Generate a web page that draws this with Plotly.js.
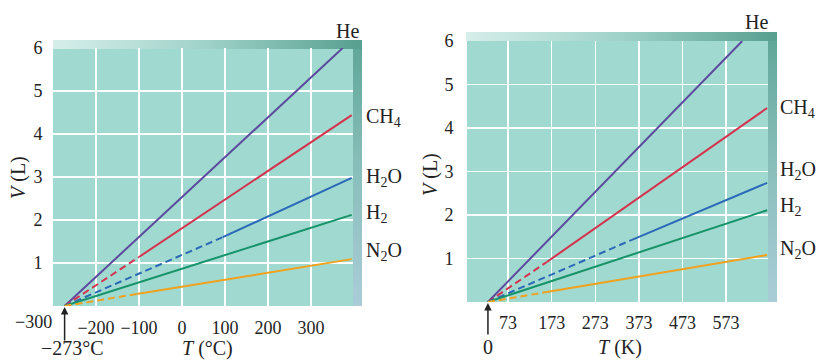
<!DOCTYPE html>
<html>
<head>
<meta charset="utf-8">
<script src="https://cdn.plot.ly/plotly-3.0.1.min.js"></script>
<style>html,body{margin:0;padding:0;background:#fff;}#chart{width:817px;height:360px;}</style>
</head>
<body>
<div id="chart"></div>
<script>
// ---------- data ----------
const gases      = ['He', 'CH4', 'H2O', 'H2', 'N2O'];
const gasLabels  = ['He', 'CH<sub>4</sub>', 'H<sub>2</sub>O', 'H<sub>2</sub>', 'N<sub>2</sub>O'];
const gasColors  = ['#5c4a9e', '#d4324e', '#2b69b8', '#16936a', '#f0a11e'];

// Left panel: temperature in degrees Celsius
const celsiusStart = -273;
const cDashEndT = [null, -100, 95, null, -105];   // extrapolated (dashed) part ends here
const cDashEndV = [null, 1.14, 1.60, null, 0.28];
const cEndT     = [374, 395, 395, 395, 395];
const cEndV     = [6.0, 4.44, 2.98, 2.12, 1.09];
const cTicks    = [-200, -100, 0, 100, 200, 300];
const cTickText = ['\u2212200', '\u2212100', '0', '100', '200', '300'];

// Right panel: temperature in kelvin
const kelvinStart = 27;   // where the lines meet, marked "0"
const kDashEndT = [null, 162, 357, null, 162];
const kDashEndV = [null, 0.92, 1.43, null, 0.23];
const kEndT     = [610, 667, 667, 667, 667];
const kEndV     = [6.0, 4.46, 2.74, 2.11, 1.08];
const kTicks    = [73, 173, 273, 373, 473, 573];
const kTickText = ['73', '173', '273', '373', '473', '573'];

const vTicks = [1, 2, 3, 4, 5, 6];

// ---------- helpers ----------
const W = 817, H = 360;
const px = x => x / W;
const py = y => 1 - y / H;
const FONT = 'Liberation Serif, Times New Roman, serif';

const traces = [];
function addPanel(xa, ya, t0, dT, dV, eT, eV) {
  gases.forEach((g, i) => {
    const line = {color: gasColors[i], width: 2};
    if (dT[i] !== null) {
      traces.push({x: [t0, dT[i]], y: [0, dV[i]], xaxis: xa, yaxis: ya, mode: 'lines',
        line: Object.assign({}, line, {dash: '7px,4px'}), name: g, hoverinfo: 'skip'});
      traces.push({x: [dT[i], eT[i]], y: [dV[i], eV[i]], xaxis: xa, yaxis: ya, mode: 'lines',
        line: line, name: g, hoverinfo: 'skip'});
    } else {
      traces.push({x: [t0, eT[i]], y: [0, eV[i]], xaxis: xa, yaxis: ya, mode: 'lines',
        line: line, name: g, hoverinfo: 'skip'});
    }
  });
}
addPanel('x', 'y', celsiusStart, cDashEndT, cDashEndV, cEndT, cEndV);
addPanel('x2', 'y2', kelvinStart, kDashEndT, kDashEndV, kEndT, kEndV);

function svgUri(w, h, band) {
  const s = `<svg xmlns="http://www.w3.org/2000/svg" width="${w}" height="${h}" viewBox="0 0 ${w} ${h}">
<defs>
<linearGradient id="t" x1="0" y1="0" x2="1" y2="0"><stop offset="0" stop-color="#d6eeea"/><stop offset="0.5" stop-color="#9fd2c9"/><stop offset="1" stop-color="#579f90"/></linearGradient>
<linearGradient id="s" x1="0" y1="0" x2="0" y2="1"><stop offset="0" stop-color="#5ea597"/><stop offset="0.45" stop-color="#86bdb8"/><stop offset="1" stop-color="#aacdd8"/></linearGradient>
</defs>
<rect x="${w - band}" y="0" width="${band}" height="${h}" fill="url(#s)"/>
<rect x="0" y="0" width="${w}" height="${band}" fill="url(#t)"/>
</svg>`;
  return 'data:image/svg+xml;base64,' + btoa(s);
}

const axisFont = {family: FONT, size: 18, color: '#222'};
const commonX = {showgrid: true, gridcolor: '#ffffff', gridwidth: 1.5, zeroline: false, showline: false,
  ticks: 'outside', ticklen: 5, tickcolor: 'rgba(0,0,0,0)', tickfont: axisFont, tickmode: 'array', fixedrange: true};
const commonY = {showgrid: true, gridcolor: '#ffffff', gridwidth: 1.5, zeroline: false, showline: false,
  ticks: 'outside', tickcolor: 'rgba(0,0,0,0)', tickfont: axisFont, tickmode: 'array',
  tickvals: vTicks, ticktext: vTicks.map(String), range: [0, 6], fixedrange: true};

const layout = {
  width: W, height: H,
  margin: {l: 0, r: 0, t: 0, b: 0},
  paper_bgcolor: '#ffffff',
  plot_bgcolor: '#a0d9cf',
  showlegend: false,
  xaxis: Object.assign({}, commonX, {domain: [px(53), px(353)], range: [-300, 398],
    tickvals: cTicks, ticktext: cTickText, anchor: 'y'}),
  yaxis: Object.assign({}, commonY, {domain: [py(306), py(48)], ticklen: 6, anchor: 'x'}),
  xaxis2: Object.assign({}, commonX, {domain: [px(467), px(768)], range: [-21, 669],
    tickvals: kTicks, ticktext: kTickText, ticklen: 4, anchor: 'y2'}),
  yaxis2: Object.assign({}, commonY, {domain: [py(302), py(41)], ticklen: 9, anchor: 'x2'}),
  images: [
    {source: svgUri(309, 266, 9), xref: 'paper', yref: 'paper', x: px(53), y: py(40),
      sizex: 309 / W, sizey: 266 / H, xanchor: 'left', yanchor: 'top', sizing: 'stretch', layer: 'below'},
    {source: svgUri(311, 270, 9), xref: 'paper', yref: 'paper', x: px(466), y: py(32),
      sizex: 311 / W, sizey: 270 / H, xanchor: 'left', yanchor: 'top', sizing: 'stretch', layer: 'below'}
  ],
  annotations: []
};

const labFont = {family: FONT, size: 20, color: '#222'};
const leftLabelY  = [31, 118, 177, 213, 252];
const rightLabelY = [22, 108, 170, 207, 249];
gasLabels.forEach((t, i) => {
  if (i === 0) {
    layout.annotations.push({text: t, xref: 'paper', yref: 'paper', x: px(347), y: py(leftLabelY[i]),
      xanchor: 'center', yanchor: 'middle', showarrow: false, font: labFont});
    layout.annotations.push({text: t, xref: 'paper', yref: 'paper', x: px(756), y: py(rightLabelY[i]),
      xanchor: 'center', yanchor: 'middle', showarrow: false, font: labFont});
  } else {
    layout.annotations.push({text: t, xref: 'paper', yref: 'paper', x: px(364), y: py(leftLabelY[i]),
      xanchor: 'left', yanchor: 'middle', showarrow: false, font: labFont});
    layout.annotations.push({text: t, xref: 'paper', yref: 'paper', x: px(778), y: py(rightLabelY[i]),
      xanchor: 'left', yanchor: 'middle', showarrow: false, font: labFont});
  }
});

// axis titles and markers
layout.annotations.push(
  {text: '<i>V</i> (L)', xref: 'paper', yref: 'paper', x: px(18), y: py(178), textangle: -90,
    xanchor: 'center', yanchor: 'middle', showarrow: false, font: labFont},
  {text: '<i>V</i> (L)', xref: 'paper', yref: 'paper', x: px(430), y: py(175), textangle: -90,
    xanchor: 'center', yanchor: 'middle', showarrow: false, font: labFont},
  {text: '<i>T</i> (°C)', xref: 'paper', yref: 'paper', x: px(207), y: py(348),
    xanchor: 'center', yanchor: 'middle', showarrow: false, font: labFont},
  {text: '<i>T</i> (K)', xref: 'paper', yref: 'paper', x: px(620), y: py(347),
    xanchor: 'center', yanchor: 'middle', showarrow: false, font: labFont},
  {text: '\u2212300', xref: 'paper', yref: 'paper', x: px(33), y: py(322),
    xanchor: 'center', yanchor: 'middle', showarrow: false, font: axisFont},
  {text: '\u2212273°C', xref: 'paper', yref: 'paper', x: px(72), y: py(348),
    xanchor: 'center', yanchor: 'middle', showarrow: false, font: labFont},
  {text: '', xref: 'x', yref: 'y', x: celsiusStart, y: 0, ax: 0, ay: 36, showarrow: true,
    arrowhead: 2, arrowsize: 1, arrowwidth: 1.5, arrowcolor: '#222', standoff: 1},
  {text: '0', xref: 'x2', yref: 'y2', x: kelvinStart, y: 0, ax: 0, ay: 45, showarrow: true,
    arrowhead: 2, arrowsize: 1, arrowwidth: 1.5, arrowcolor: '#222', standoff: 1, font: labFont}
);

Plotly.newPlot('chart', traces, layout, {staticPlot: true, displayModeBar: false});
</script>
</body>
</html>
